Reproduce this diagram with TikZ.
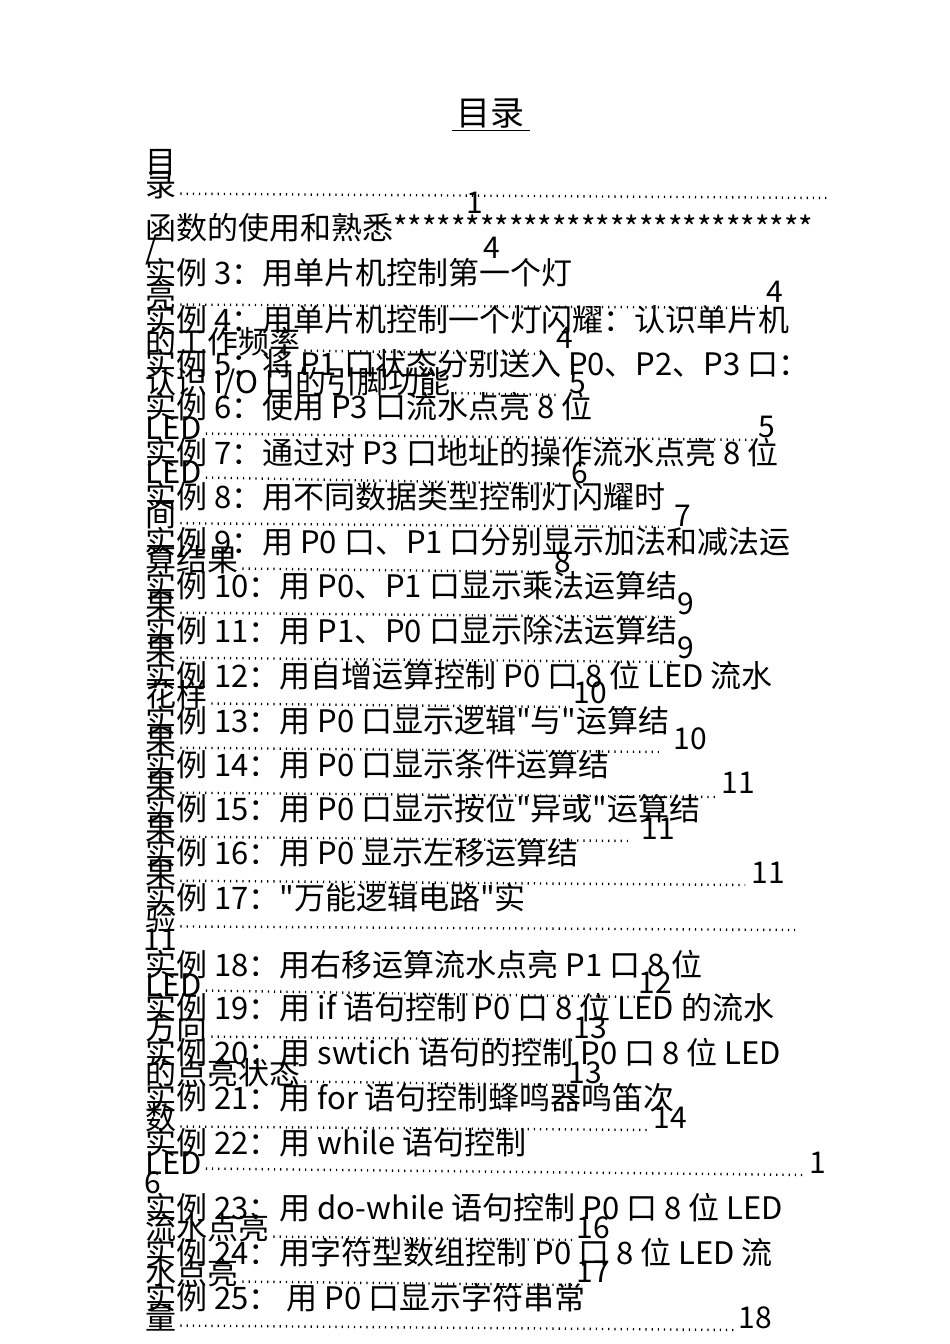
\documentclass[tikz,border=0pt]{standalone}
\usepackage{fontspec}
\setmainfont[Ligatures=TeXOff]{Noto Sans CJK SC}
\newcommand\qq{"}
\begin{document}
\begin{tikzpicture}[x=1pt,y=-1pt,
  tx/.style={anchor=west,inner sep=0pt,font=\fontsize{31}{31}\selectfont},
  nm/.style={inner sep=0pt,font=\fontsize{30}{30}\selectfont},
  lead/.style={line width=2.4pt,dash pattern=on 1.2pt off 5pt}]
\useasboundingbox[fill=white] (0,0) rectangle (950,1344);
\node[inner sep=0pt,font=\fontsize{34}{34}\selectfont] (title) at (490,113) {目录};
\draw[line width=1pt] (452,130) -- (530,130);
\newcommand\E[9]{%
  \node[tx] (#1a) at (145,#2) {#3};
  \node[tx] (#1b) at (145,#4) {#5};
  \draw[lead] (#1b.south east) ++(4,-6) -- (#6,#4+12);
  \node[nm] (#1n) at (#7,#8) {#9};}
\node[tx] (m0) at (145,163) {目};
\node[tx] (m1) at (145,186) {录};
\draw[lead] (m1.south east) ++(4,-6) -- (830,198);
\node[nm] (m1n) at (475,203) {1};
\node[tx] (f0) at (145,228) {函数的使用和熟悉*****************************};
\node[tx] (f1) at (145,250) {/};
\node[nm] (f1n) at (492,248) {4};
\E{a}{273}{实例 3：用单片机控制第一个灯}{296}{亮}{760}{775}{292}{4}
\E{b}{320}{实例 4：用单片机控制一个灯闪耀：认识单片机}{342}{的工作频率}{545}{565}{338}{4}
\E{c}{364}{实例 5：将 P1 口状态分别送入 P0、P2、P3 口：}{383}{认识 I/O 口的引脚功能}{560}{578}{383}{5}
\E{d}{407}{实例 6：使用 P3 口流水点亮 8 位}{428}{LED}{755}{767}{427}{5}
\E{e}{453}{实例 7：通过对 P3 口地址的操作流水点亮 8 位}{472}{LED}{565}{580}{473}{6}
\E{f}{497}{实例 8：用不同数据类型控制灯闪耀时}{515}{间}{670}{683}{516}{7}
\E{g}{542}{实例 9：用 P0 口、P1 口分别显示加法和减法运}{560}{算结果}{550}{563}{562}{8}
\E{h}{586}{实例 10：用 P0、P1 口显示乘法运算结}{605}{果}{672}{686}{604}{9}
\E{i}{631}{实例 11：用 P1、P0 口显示除法运算结}{650}{果}{672}{686}{648}{9}
\E{j}{676}{实例 12：用自增运算控制 P0 口 8 位 LED 流水}{695}{花样}{570}{590}{693}{10}
\E{k}{721}{实例 13：用 P0 口显示逻辑\qq 与\qq 运算结}{740}{果}{660}{690}{739}{10}
\E{l}{765}{实例 14：用 P0 口显示条件运算结}{785}{果}{715}{738}{783}{11}
\E{m}{809}{实例 15：用 P0 口显示按位\qq 异或\qq 运算结}{829}{果}{630}{658}{829}{11}
\E{n}{853}{实例 16：用 P0 显示左移运算结}{873}{果}{745}{768}{873}{11}
\E{o}{898}{实例 17：\qq 万能逻辑电路\qq 实}{918}{验}{795}{160}{940}{11}
\E{p}{965}{实例 18：用右移运算流水点亮 P1 口 8 位}{985}{LED}{640}{655}{983}{12}
\E{q}{1008}{实例 19：用 if 语句控制 P0 口 8 位 LED 的流水}{1028}{方向}{575}{590}{1028}{13}
\E{r}{1053}{实例 20：用 swtich 语句的控制 P0 口 8 位 LED}{1073}{的点亮状态}{570}{585}{1073}{13}
\E{s}{1098}{实例 21：用 for 语句控制蜂鸣器鸣笛次}{1118}{数}{650}{670}{1118}{14}
\E{t}{1143}{实例 22：用 while 语句控制}{1163}{LED}{805}{818}{1163}{1}
\node[nm] (t6) at (153,1183) {6};
\E{u}{1208}{实例 23：用 do-while 语句控制 P0 口 8 位 LED}{1228}{流水点亮}{575}{593}{1228}{16}
\E{v}{1253}{实例 24：用字符型数组控制 P0 口 8 位 LED 流}{1273}{水点亮}{575}{593}{1272}{17}
\E{w}{1298}{实例 25： 用 P0 口显示字符串常}{1318}{量}{735}{755}{1318}{18}
\end{tikzpicture}
\end{document}
